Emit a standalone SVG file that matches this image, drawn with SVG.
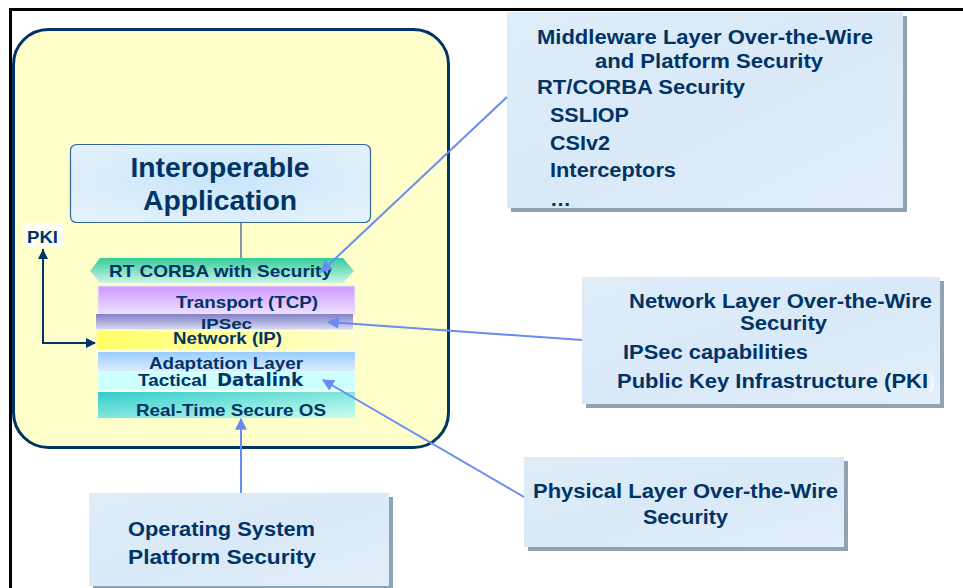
<svg xmlns="http://www.w3.org/2000/svg" width="963" height="588" viewBox="0 0 963 588">
<style>
.t{font-family:"Liberation Sans",Arial,sans-serif;font-weight:bold;fill:#003366}
.box{fill:url(#boxg)}
.shadow{fill:#8FA3B3}
.con{stroke:#6A8CF2;stroke-width:2;fill:none}
</style>
<defs>
<linearGradient id="boxg" x1="0" y1="0" x2="1" y2="1">
<stop offset="0" stop-color="#DFEDF9"/><stop offset="0.5" stop-color="#D9E9F7"/><stop offset="1" stop-color="#E2EFFA"/>
</linearGradient>
<radialGradient id="appg" cx="0.5" cy="0.45" r="0.6">
<stop offset="0" stop-color="#C8E4FA"/><stop offset="1" stop-color="#E2F1FC"/>
</radialGradient>
<linearGradient id="corbag" x1="0" y1="0" x2="0" y2="1">
<stop offset="0" stop-color="#33CC99"/><stop offset="1" stop-color="#CCF5E6"/>
</linearGradient>
<linearGradient id="tcpg" x1="0" y1="0" x2="0" y2="1">
<stop offset="0" stop-color="#CC99FF"/><stop offset="1" stop-color="#EEE0FF"/>
</linearGradient>
<linearGradient id="ipsecg" x1="0" y1="0" x2="0" y2="1">
<stop offset="0" stop-color="#8080C8"/><stop offset="1" stop-color="#DCDCF4"/>
</linearGradient>
<linearGradient id="ipg" x1="0" y1="0" x2="1" y2="0">
<stop offset="0" stop-color="#FFFF66"/><stop offset="1" stop-color="#FFFFCC"/>
</linearGradient>
<linearGradient id="adg" x1="0" y1="0" x2="0" y2="1">
<stop offset="0" stop-color="#99CCFF"/><stop offset="1" stop-color="#E0EEFF"/>
</linearGradient>
<linearGradient id="osg" x1="0" y1="0" x2="1" y2="1">
<stop offset="0" stop-color="#33CCCC"/><stop offset="1" stop-color="#CCFFEE"/>
</linearGradient>
<marker id="ab" viewBox="0 0 10 10" refX="9" refY="5" markerWidth="6" markerHeight="6" orient="auto" markerUnits="strokeWidth">
<path d="M0,0 L10,5 L0,10 z" fill="#6A8CF2"/>
</marker>
<marker id="an" viewBox="0 0 10 10" refX="9" refY="5" markerWidth="5" markerHeight="5" orient="auto" markerUnits="strokeWidth">
<path d="M0,0 L10,5 L0,10 z" fill="#003366"/>
</marker>
</defs>
<rect width="963" height="588" fill="#FFFFFF"/>
<path d="M10.5,588 L10.5,9.5 L963,9.5" fill="none" stroke="#000000" stroke-width="3"/>

<g id="platform">
<rect x="13.5" y="29.5" width="435" height="418" rx="35" fill="#FFFFCC" stroke="#003366" stroke-width="3"/>
</g>

<g id="app">
<rect x="70.5" y="144.5" width="300" height="78" rx="6" fill="url(#appg)" stroke="#336699" stroke-width="1.2"/>
<text class="t" x="220" y="177" font-size="28" text-anchor="middle" textLength="179" lengthAdjust="spacingAndGlyphs">Interoperable</text>
<text class="t" x="220" y="210" font-size="28" text-anchor="middle" textLength="154" lengthAdjust="spacingAndGlyphs">Application</text>
</g>

<g id="connectors">
<line x1="241" y1="223" x2="241" y2="262" stroke="#557799" stroke-width="1.5"/>
</g>

<g id="corba">
<polygon points="90,271 100,258 343,258 354,271 343,283 100,283" fill="url(#corbag)"/>
<text class="t" x="109" y="277" font-size="17" textLength="223" lengthAdjust="spacingAndGlyphs">RT CORBA with Security</text>
</g>
<g id="tcp">
<rect x="98" y="286" width="257" height="28" fill="url(#tcpg)" stroke="#EEE6FF" stroke-width="1"/>
<text class="t" x="176" y="308" font-size="16.5" textLength="142" lengthAdjust="spacingAndGlyphs">Transport (TCP)</text>
</g>
<g id="ipsec">
<rect x="96" y="314" width="257" height="16" fill="url(#ipsecg)"/>
<text class="t" x="201" y="328.5" font-size="15" textLength="51" lengthAdjust="spacingAndGlyphs">IPSec</text>
</g>
<g id="network">
<rect x="96" y="330" width="257" height="20" fill="url(#ipg)" stroke="#FFFFEE" stroke-width="1"/>
<text class="t" x="173" y="344" font-size="16" textLength="109" lengthAdjust="spacingAndGlyphs">Network (IP)</text>
</g>
<g id="adaptation">
<rect x="98" y="352" width="257" height="20" fill="url(#adg)"/>
<text class="t" x="149" y="369" font-size="16.5" textLength="154" lengthAdjust="spacingAndGlyphs">Adaptation Layer</text>
</g>
<g id="datalink">
<rect x="98" y="372" width="257" height="18" fill="#CCFFFF" stroke="#E8FFFF" stroke-width="1"/>
<text class="t" x="138" y="386" font-size="16.5" textLength="69" lengthAdjust="spacingAndGlyphs">Tactical</text>
<text x="217" y="386" font-size="17" font-family="'DejaVu Sans',sans-serif" font-weight="bold" fill="#003366" textLength="86" lengthAdjust="spacingAndGlyphs">Datalink</text>
</g>
<g id="rtos">
<rect x="98" y="392" width="257" height="26" fill="url(#osg)"/>
<text class="t" x="136" y="416" font-size="16.5" textLength="190" lengthAdjust="spacingAndGlyphs">Real-Time Secure OS</text>
</g>

<g id="pki">
<rect x="23" y="223" width="40" height="24" fill="#FFFFF4"/>
<text class="t" x="27" y="243" font-size="17" textLength="31" lengthAdjust="spacingAndGlyphs">PKI</text>
</g>

<g id="middleware">
<rect class="shadow" x="511" y="16" width="396" height="196"/>
<rect class="box" x="507" y="12" width="396" height="196"/>
<text class="t" x="537" y="44" font-size="21" textLength="336" lengthAdjust="spacingAndGlyphs">Middleware Layer Over-the-Wire</text>
<text class="t" x="595" y="68" font-size="21" textLength="228" lengthAdjust="spacingAndGlyphs">and Platform Security</text>
<text class="t" x="537" y="94" font-size="21" textLength="208" lengthAdjust="spacingAndGlyphs">RT/CORBA Security</text>
<text class="t" x="550" y="122" font-size="21" textLength="79" lengthAdjust="spacingAndGlyphs">SSLIOP</text>
<text class="t" x="550" y="150" font-size="21" textLength="60" lengthAdjust="spacingAndGlyphs">CSIv2</text>
<text class="t" x="550" y="177" font-size="21" textLength="126" lengthAdjust="spacingAndGlyphs">Interceptors</text>
<text class="t" x="550" y="206" font-size="21">…</text>
</g>

<g id="networklayer">
<rect class="shadow" x="586" y="281" width="358" height="127"/>
<rect class="box" x="582" y="277" width="358" height="127"/>
<text class="t" x="629" y="308" font-size="21" textLength="303" lengthAdjust="spacingAndGlyphs">Network Layer Over-the-Wire</text>
<text class="t" x="740" y="330" font-size="21" textLength="87" lengthAdjust="spacingAndGlyphs">Security</text>
<text class="t" x="623" y="359" font-size="21" textLength="185" lengthAdjust="spacingAndGlyphs">IPSec capabilities</text>
<text class="t" x="617" y="388" font-size="21" textLength="311" lengthAdjust="spacingAndGlyphs">Public Key Infrastructure (PKI</text>
<text x="928" y="388" font-size="21" font-family="'Liberation Sans',sans-serif" font-weight="bold" fill="#F4F8FC">)</text>
</g>

<g id="physical">
<rect class="shadow" x="528" y="461" width="320" height="90"/>
<rect class="box" x="524" y="457" width="320" height="90"/>
<text class="t" x="533" y="498" font-size="21" textLength="305" lengthAdjust="spacingAndGlyphs">Physical Layer Over-the-Wire</text>
<text class="t" x="643" y="524" font-size="21" textLength="85" lengthAdjust="spacingAndGlyphs">Security</text>
</g>

<g id="ossecurity">
<rect class="shadow" x="93" y="497" width="300" height="95"/>
<rect class="box" x="89" y="493" width="300" height="93"/>
<text class="t" x="128" y="536" font-size="21" textLength="187" lengthAdjust="spacingAndGlyphs">Operating System</text>
<text class="t" x="128" y="564" font-size="21" textLength="188" lengthAdjust="spacingAndGlyphs">Platform Security</text>
</g>

<g id="arrows">
<line class="con" x1="507" y1="97" x2="321" y2="272" marker-end="url(#ab)"/>
<line class="con" x1="582" y1="340" x2="328" y2="322" marker-end="url(#ab)"/>
<line class="con" x1="524" y1="497" x2="323" y2="380" marker-end="url(#ab)"/>
<line class="con" x1="241" y1="493" x2="241" y2="419" marker-end="url(#ab)"/>
<polyline points="43,249 43,343 95,343" fill="none" stroke="#003366" stroke-width="2" marker-end="url(#an)"/>
<line x1="43" y1="343" x2="43" y2="250" stroke="#003366" stroke-width="2" marker-end="url(#an)"/>
</g>
</svg>
